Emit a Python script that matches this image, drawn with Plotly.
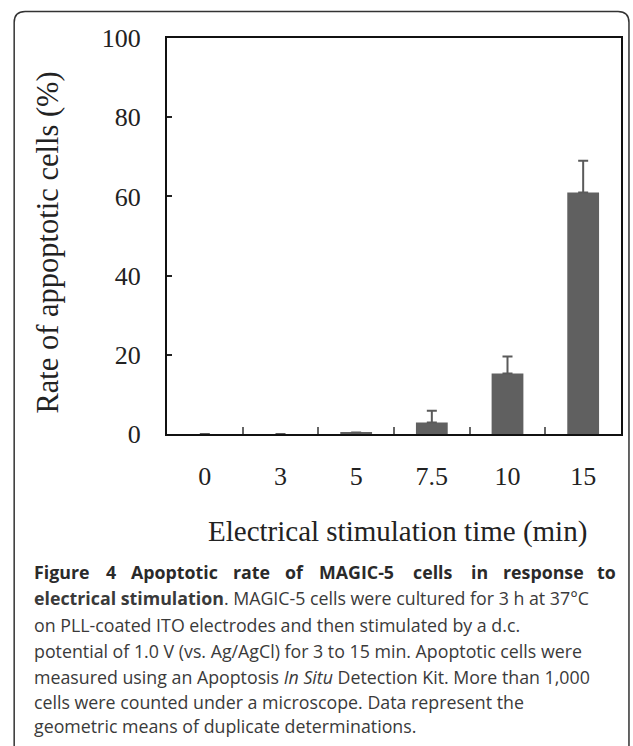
import plotly.graph_objects as go

# ---- data ----
categories = ["0", "3", "5", "7.5", "10", "15"]
apoptotic_rate = [0.0, 0.0, 0.4, 2.9, 15.3, 61.0]
error_plus = [None, None, None, 3.0, 4.3, 8.0]
y_ticks = [0, 20, 40, 60, 80, 100]
y_title = "Rate of appoptotic cells (%)"
x_title = "Electrical stimulation time (min)"

W, H = 633, 746
L, R, T, B = 167, 623, 38, 434  # plot area in pixels


def px(x):
    return (x - L) / (R - L)


def py(y):
    return (B - y) / (B - T)


serif = "Liberation Serif, Times New Roman, serif"
sans = "Open Sans, Noto Sans, sans-serif"

fig = go.Figure()
fig.add_trace(go.Bar(
    x=categories, y=apoptotic_rate, width=0.42,
    marker=dict(color="#606060", line=dict(width=0)),
    error_y=dict(type="data", array=error_plus,
                 arrayminus=[0 if e is not None else None for e in error_plus],
                 symmetric=False, color="#5a5a5a", thickness=2, width=5),
    hoverinfo="skip",
))

fig.update_layout(
    width=W, height=H,
    margin=dict(l=L, r=W - R, t=T, b=H - B, pad=0),
    paper_bgcolor="white", plot_bgcolor="white",
    showlegend=False, bargap=0.58,
    xaxis=dict(type="category", showline=True, linecolor="#111", linewidth=2,
               mirror=True, ticks="inside", tickson="boundaries", ticklen=7,
               tickwidth=1.5, tickcolor="#666", showgrid=False,
               tickfont=dict(family=serif, size=26, color="#222"),
               ticklabelstandoff=18),
    yaxis=dict(range=[0, 100], tickvals=y_ticks, showline=True, linecolor="#111",
               linewidth=2, mirror=True, ticks="inside", ticklen=5, tickwidth=1.5,
               tickcolor="#222", showgrid=False, zeroline=False,
               tickfont=dict(family=serif, size=26, color="#222"),
               ticklabelstandoff=19),
)

# axis titles
fig.add_annotation(text=y_title, x=px(47), y=py(243), xref="paper", yref="paper",
                   textangle=-90, showarrow=False, xanchor="center", yanchor="middle",
                   font=dict(family=serif, size=30.5, color="#222"))
fig.add_annotation(text=x_title, x=px(399), y=py(531), xref="paper", yref="paper",
                   showarrow=False, xanchor="center", yanchor="middle",
                   font=dict(family=serif, size=29, color="#222"))

# caption: first line justified word by word
cap_size = 17.8
head_words = ["Figure", "4", "Apoptotic", "rate", "of", "MAGIC-5", "cells", "in", "response", "to"]
head_x = [31, 104, 129, 231, 284, 318, 412, 470, 502, 620]
head_anchor = ["left"] * 9 + ["right"]
line_y = [572, 598, 625, 651, 677, 702, 726]
for w, x, a in zip(head_words, head_x, head_anchor):
    fig.add_annotation(text="<b>" + w + "</b>", x=px(x), y=py(line_y[0]),
                       xref="paper", yref="paper", showarrow=False,
                       xanchor=a, yanchor="middle",
                       font=dict(family=sans, size=cap_size, color="#2a2a2a"))

caption_lines = [
    "<b>electrical stimulation</b>. MAGIC-5 cells were cultured for 3 h at 37°C",
    "on PLL-coated ITO electrodes and then stimulated by a d.c.",
    "potential of 1.0 V (vs. Ag/AgCl) for 3 to 15 min. Apoptotic cells were",
    "measured using an Apoptosis <i>In Situ</i> Detection Kit. More than 1,000",
    "cells were counted under a microscope. Data represent the",
    "geometric means of duplicate determinations.",
]
for i, line in enumerate(caption_lines):
    fig.add_annotation(text=line, x=px(31), y=py(line_y[i + 1]),
                       xref="paper", yref="paper", showarrow=False,
                       xanchor="left", yanchor="middle",
                       font=dict(family=sans, size=cap_size, color="#3a3a3a"))

# card border with rounded top corners
r = 11
x0, x1, y0, y1 = 13.5, 631, 11.5, 760
path = (f"M {px(x0)},{py(y1)} L {px(x0)},{py(y0 + r)} "
        f"Q {px(x0)},{py(y0)} {px(x0 + r)},{py(y0)} "
        f"L {px(x1 - r)},{py(y0)} Q {px(x1)},{py(y0)} {px(x1)},{py(y0 + r)} "
        f"L {px(x1)},{py(y1)}")
fig.add_shape(type="path", path=path, xref="paper", yref="paper",
              line=dict(color="#333", width=1.5))

fig.write_html("out.html", config={"displayModeBar": False},
               post_script="document.body.style.margin='0';document.body.style.overflow='hidden';")
